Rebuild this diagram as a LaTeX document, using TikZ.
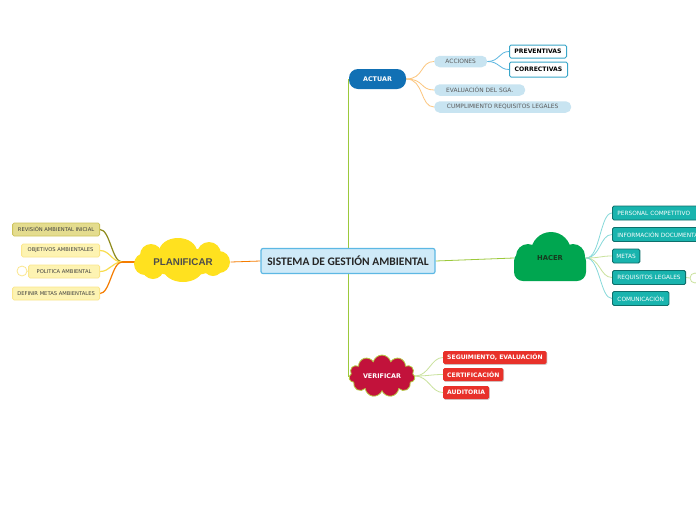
\documentclass[tikz,border=0pt]{standalone}
\usepackage{fontspec}
\setmainfont{Carlito}
\newfontfamily\arialf{Liberation Sans}
\newfontfamily\dvs{DejaVu Sans}
\usetikzlibrary{shapes.symbols,backgrounds,shadows}
\definecolor{cenfill}{HTML}{CFEAF8}
\definecolor{cenborder}{HTML}{5DB8E4}
\definecolor{actblue}{HTML}{1170B4}
\definecolor{pillblue}{HTML}{C8E4F1}
\definecolor{pilltext}{HTML}{5A5A5A}
\definecolor{prevborder}{HTML}{3AA6C9}
\definecolor{orangel}{HTML}{FCC67E}
\definecolor{bluel}{HTML}{5CB6E0}
\definecolor{maingreen}{HTML}{9CC93B}
\definecolor{planyellow}{HTML}{FFE11F}
\definecolor{planorange}{HTML}{F57C00}
\definecolor{revfill}{HTML}{E4DC8E}
\definecolor{revborder}{HTML}{CDC35C}
\definecolor{olive}{HTML}{8E8A1C}
\definecolor{ylwfill}{HTML}{FDF3B2}
\definecolor{ylwborder}{HTML}{FBE68C}
\definecolor{ylwline}{HTML}{F8DC4E}
\definecolor{hacergreen}{HTML}{00A650}
\definecolor{hacertext}{HTML}{173A1F}
\definecolor{tealfill}{HTML}{19B4AE}
\definecolor{tealborder}{HTML}{0E6F6B}
\definecolor{cyanl}{HTML}{86D9DA}
\definecolor{greenl}{HTML}{C9E29C}
\definecolor{crimson}{HTML}{C2123B}
\definecolor{verborder}{HTML}{B5C942}
\definecolor{redbox}{HTML}{E8312A}
\begin{document}
\begin{tikzpicture}[x=1pt,y=-1pt,
  central/.style={fill=cenfill,draw=cenborder,line width=1.2pt,rounded corners=2pt,minimum width=174pt,minimum height=25pt,inner sep=0pt,font=\bfseries\fontsize{11.5}{12}\selectfont,text=black!85},
  actbox/.style={fill=actblue,rounded corners=9pt,minimum width=57pt,minimum height=20pt,inner sep=0pt,text=white,font=\dvs\bfseries\fontsize{6.4}{7}\selectfont},
  pill/.style={fill=pillblue,rounded corners=5.5pt,minimum height=11.5pt,inner sep=0pt,anchor=west,text=pilltext,font=\dvs\fontsize{5.9}{6}\selectfont},
  wbox/.style={fill=white,draw=prevborder,line width=1pt,rounded corners=1.5pt,minimum height=13pt,inner sep=0pt,anchor=west,font=\dvs\bfseries\fontsize{6.1}{7}\selectfont,text=black},
  revbox/.style={fill=revfill,draw=revborder,line width=0.8pt,rounded corners=1.5pt,minimum height=13pt,inner sep=0pt,anchor=east,font=\dvs\fontsize{5.2}{5}\selectfont,text=black!75},
  ybox/.style={fill=ylwfill,draw=ylwborder,line width=0.8pt,rounded corners=1.5pt,minimum height=13pt,inner sep=0pt,anchor=east,font=\dvs\fontsize{5.2}{5}\selectfont,text=black!75},
  tealbox/.style={fill=tealfill,draw=tealborder,line width=0.9pt,rounded corners=1.5pt,minimum height=14pt,inner xsep=5pt,inner ysep=0pt,anchor=west,font=\dvs\fontsize{5.8}{6}\selectfont,text=white},
  vcloud/.style={cloud,cloud puffs=11,aspect=1.7,fill=crimson,draw=verborder,line width=0.8pt,minimum width=66pt,minimum height=38pt,inner sep=0pt,font=\dvs\bfseries\fontsize{6.4}{7}\selectfont,text=white},
  redb/.style={fill=redbox,rounded corners=1.5pt,minimum height=13pt,inner xsep=4pt,inner ysep=0pt,anchor=west,font=\dvs\bfseries\fontsize{6.1}{7}\selectfont,text=white,drop shadow={shadow xshift=0.7pt,shadow yshift=-0.9pt,opacity=0.35}},
  conn/.style={line width=0.8pt}
]
\useasboundingbox (0,0) rectangle (696,520);

% central
\node[central] (central) at (348,261) {SISTEMA DE GESTIÓN AMBIENTAL};

% ACTUAR branch
\node[actbox] (actuar) at (377.5,79) {ACTUAR};
\node[pill,minimum width=53pt] (acciones) at (434,61.5) {ACCIONES};
\node[pill,minimum width=91pt] (evaluacion) at (434,90) {EVALUACIÓN DEL SGA.};
\node[pill,minimum width=137pt] (cumplimiento) at (434,107) {CUMPLIMIENTO REQUISITOS LEGALES};
\node[wbox,minimum width=57pt] (preventivas) at (509,51.5) {PREVENTIVAS};
\node[wbox,minimum width=58pt,minimum height=15pt] (correctivas) at (509,69.5) {CORRECTIVAS};

% PLANIFICAR branch (cloud)
\begin{scope}[planyellow]
\fill (183,262) ellipse[x radius=38pt,y radius=14pt];
\fill (178,252) ellipse[x radius=19pt,y radius=14pt];
\fill (151,255) circle[radius=11pt];
\fill (209,254) circle[radius=12pt];
\fill (145,264) circle[radius=11pt];
\fill (219,262) circle[radius=11pt];
\fill (153,268) circle[radius=11pt];
\fill (183,268) ellipse[x radius=20pt,y radius=14pt];
\fill (213,266) circle[radius=10pt];
\end{scope}
\node[minimum width=95pt,minimum height=40pt,inner sep=0pt,font=\arialf\bfseries\fontsize{9.8}{10}\selectfont,text=black!70] (planificar) at (183,262) {PLANIFICAR};
\coordinate (pj) at (122,262);
\node[revbox,minimum width=87pt] (revision) at (100,229.5) {REVISIÓN AMBIENTAL INICIAL};
\node[ybox,minimum width=78pt] (objetivos) at (100,250.5) {OBJETIVOS AMBIENTALES};
\node[ybox,minimum width=71pt] (politica) at (100,271.5) {POLITICA AMBIENTAL};
\node[ybox,minimum width=87pt] (definir) at (100,293.5) {DEFINIR METAS AMBIENTALES};
\node[circle,draw=ylwborder,fill=white,line width=0.8pt,minimum size=10pt,inner sep=0pt] (polcirc) at (22,271) {};

% HACER branch
\fill[hacergreen,rounded corners=9pt] (514,281) -- (514,252) -- (586,252) -- (586,281) -- cycle;
\fill[hacergreen] (551,252) circle[radius=20pt];
\fill[hacergreen] (528,256) circle[radius=12pt];
\fill[hacergreen] (573,256) circle[radius=12pt];
\node[minimum width=72pt,minimum height=49pt,inner sep=0pt,font=\dvs\bfseries\fontsize{6.8}{8}\selectfont,text=hacertext] (hacer) at (550,258) {HACER};
\node[tealbox,minimum width=110pt,align=left,text width=100pt] (personal) at (612,213) {PERSONAL COMPETITIVO};
\node[tealbox,minimum width=110pt,align=left,text width=100pt] (informacion) at (612,234.5) {INFORMACIÓN DOCUMENTADA};
\node[tealbox,inner xsep=4pt] (metas) at (612,256) {METAS};
\node[tealbox] (requisitos) at (612,277.5) {REQUISITOS LEGALES};
\node[tealbox] (comunicacion) at (612,298.5) {COMUNICACIÓN};
\node[circle,draw=greenl,fill=white,line width=0.8pt,minimum size=10pt,inner sep=0pt] (reqcirc) at (695,278) {};

% VERIFICAR branch
\node[vcloud] (verificar) at (382,376) {VERIFICAR};
\node[redb] (seguimiento) at (443,357.5) {SEGUIMIENTO, EVALUACIÓN};
\node[redb] (certificacion) at (443,374.5) {CERTIFICACIÓN};
\node[redb] (auditoria) at (443,392.5) {AUDITORIA};

\begin{pgfonlayer}{background}
\fill[white] (0,0) rectangle (696,520);
% main connectors
\draw[maingreen,conn] (central.north) -- (central.north |- actuar.west);
\draw[maingreen,conn] (central.south) -- (central.south |- verificar.west) -- (verificar.west);
\draw[planorange,conn] (central.west) -- (planificar.east);
\draw[maingreen,conn] (central.east) -- (hacer.west);
% actuar children
\draw[orangel,conn] (actuar.east) .. controls +(18,0) and +(-14,0) .. (acciones.west);
\draw[orangel,conn] (actuar.east) .. controls +(18,0) and +(-14,0) .. (evaluacion.west);
\draw[orangel,conn] (actuar.east) .. controls +(18,0) and +(-14,0) .. (cumplimiento.west);
\draw[bluel,conn] (acciones.east) .. controls +(12,0) and +(-10,0) .. (preventivas.west);
\draw[bluel,conn] (acciones.east) .. controls +(12,0) and +(-10,0) .. (correctivas.west);
% planificar children
\draw[planorange,line width=1.2pt] (planificar.west) -- (pj);
\draw[olive,line width=1.2pt] (pj) .. controls +(-10,0) and +(10,0) .. (revision.east);
\draw[ylwline,line width=1.2pt] (pj) .. controls +(-10,0) and +(10,0) .. (objetivos.east);
\draw[ylwline,line width=1.2pt] (pj) .. controls +(-10,0) and +(10,0) .. (politica.east);
\draw[planorange,line width=1.2pt] (pj) .. controls +(-10,0) and +(10,0) .. (definir.east);
\draw[ylwborder,conn] (politica.west) -- (polcirc.east);
% hacer children
\draw[cyanl,conn] (hacer.east) .. controls +(14,0) and +(-12,0) .. (personal.west);
\draw[cyanl,conn] (hacer.east) .. controls +(14,0) and +(-12,0) .. (informacion.west);
\draw[greenl,conn] (hacer.east) .. controls +(14,0) and +(-12,0) .. (metas.west);
\draw[greenl,conn] (hacer.east) .. controls +(14,0) and +(-12,0) .. (requisitos.west);
\draw[cyanl,conn] (hacer.east) .. controls +(14,0) and +(-12,0) .. (comunicacion.west);
\draw[greenl,conn] (requisitos.east) -- (reqcirc.west);
% verificar children
\draw[greenl,conn] (verificar.east) .. controls +(14,0) and +(-12,0) .. (seguimiento.west);
\draw[greenl,conn] (verificar.east) .. controls +(14,0) and +(-12,0) .. (certificacion.west);
\draw[greenl,conn] (verificar.east) .. controls +(14,0) and +(-12,0) .. (auditoria.west);
\end{pgfonlayer}
\end{tikzpicture}
\end{document}
